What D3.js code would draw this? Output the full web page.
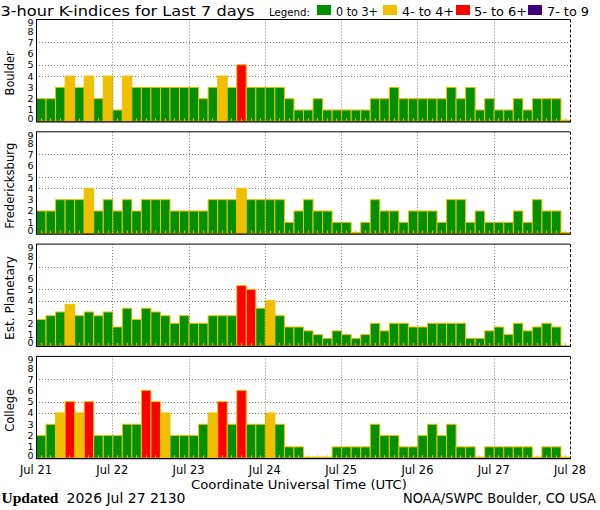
<!DOCTYPE html>
<html><head><meta charset="utf-8">
<script src="https://cdn.jsdelivr.net/npm/d3@7"></script>
<style>body{margin:0;background:#fff;overflow:hidden}</style>
</head><body>
<script>
// ---- data ----
const panelNames = ["Boulder", "Fredericksburg", "Est. Planetary", "College"];
const boulder = [2,2,3,4,3,4,2,4, 1,4,3,3,3,3,3,3, 3,2,3,4,3,5,3,3, 3,3,2,1,1,2,1,1, 1,1,1,2,2,3,2,2, 2,2,2,3,2,3,1,2, 1,1,2,1,2,2,2,0];
const fredericksburg = [2,2,3,3,3,4,2,3, 2,3,2,3,3,3,2,2, 2,2,3,3,3,4,3,3, 3,3,1,2,3,2,2,1, 1,0,1,3,2,2,1,2, 2,2,1,3,3,1,2,1, 1,1,2,1,3,2,2,0];
const planetary = [2.33,2.67,3,3.67,2.67,3,2.67,3, 1.67,3.33,2.33,3.33,3,2.67,2,2.67, 2,2,2.67,2.67,2.67,5.33,5,3.33, 4,2.67,1.67,1.67,1.33,1,0.67,1.33, 1,0.67,1,2,1.33,2,2,1.67, 1.67,2,2,2,2,0.67,0.67,1.33, 1.67,1,2,1.33,1.67,2,1.67,null];
const college = [2,3,4,5,4,5,2,2, 2,3,3,6,5,4,2,2, 2,3,4,5,3,6,3,3, 4,3,1,1,0,0,0,1, 1,1,1,3,2,2,1,1, 2,3,2,3,1,1,0,1, 1,1,1,1,0,1,1,0];
const series = [boulder, fredericksburg, planetary, college];
const dayLabels = ["Jul 21","Jul 22","Jul 23","Jul 24","Jul 25","Jul 26","Jul 27","Jul 28"];
const yTicks = [0,1,2,3,4,5,6,7,8,9];
const gridLevels = [4,5,7];
const legendLabels = ["0 to 3+","4- to 4+","5- to 6+","7- to 9"];
const legendColors = ["#009000","#f0c000","#ff0000","#400080"];

const W = 600, H = 510;
const svg = d3.select("body").append("svg").attr("width", W).attr("height", H)
  .style("font-family", "'DejaVu Sans', sans-serif");

const left = 36, right = 570;
const nBars = 56;
const x = d3.scaleLinear().domain([0, nBars]).range([left, right]);
const border = "#f0c000";

function colorFor(v) {
  if (v >= 6.6) return legendColors[3];
  if (v >= 4.6) return legendColors[2];
  if (v >= 3.6) return legendColors[1];
  return legendColors[0];
}

function fitText(sel, len) { sel.attr("textLength", len).attr("lengthAdjust", "spacingAndGlyphs"); }

// title
svg.append("text").attr("x", 0.5).attr("y", 15.5).attr("font-size", 14.5)
  .text("3-hour K-indices for Last 7 days").call(fitText, 254);

// legend
svg.append("text").attr("x", 269).attr("y", 15.5).attr("font-size", 11)
  .text("Legend:").call(fitText, 41);
const legBoxX = [317, 383, 456, 528];
const legTextX = [336, 402, 474, 547];
const legTextW = [42, 52, 53, 42];
legendLabels.forEach((l, i) => {
  svg.append("rect").attr("x", legBoxX[i]).attr("y", 5).attr("width", 14).attr("height", 10)
    .attr("fill", legendColors[i]);
  svg.append("text").attr("x", legTextX[i]).attr("y", 15.5).attr("font-size", 11.5)
    .text(l).call(fitText, legTextW[i]);
});

const titleLen = [44, 86, 84, 43];

series.forEach((data, p) => {
  const top = 19.5 + 112.3 * p;
  const bottom = top + 101.8;
  const y = d3.scaleLinear().domain([0, 9]).range([bottom, top]);
  const g = svg.append("g");

  // horizontal dotted grid (under bars)
  g.selectAll("line.h").data(gridLevels).join("line")
    .attr("x1", left).attr("x2", right)
    .attr("y1", d => Math.round(y(d)) + 0.5).attr("y2", d => Math.round(y(d)) + 0.5)
    .attr("stroke", "#808080").attr("stroke-width", 1).attr("stroke-dasharray", "1,2");

  // bars
  const bars = data.map((v, i) => ({v, i})).filter(d => d.v !== null);
  g.selectAll("rect.bar").data(bars).join("rect")
    .attr("x", d => x(d.i) + 0.5)
    .attr("width", d => x(d.i + 1) - x(d.i))
    .attr("y", d => y(Math.max(d.v, 0.1)))
    .attr("height", d => bottom - y(Math.max(d.v, 0.1)))
    .attr("fill", d => colorFor(d.v))
    .attr("stroke", border).attr("stroke-width", 1);

  // small ticks at bar centres
  g.selectAll("line.t").data(d3.range(nBars)).join("line")
    .attr("x1", i => Math.round(x(i + 0.5)) + 0.5).attr("x2", i => Math.round(x(i + 0.5)) + 0.5)
    .attr("y1", bottom).attr("y2", bottom - 3)
    .attr("stroke", border).attr("stroke-width", 1);

  // vertical day grid (dotted)
  g.selectAll("line.v").data(d3.range(1, 7)).join("line")
    .attr("x1", d => Math.round(x(d * 8)) + 0.5).attr("x2", d => Math.round(x(d * 8)) + 0.5)
    .attr("y1", top).attr("y2", bottom)
    .attr("stroke", "#808080").attr("stroke-width", 1).attr("stroke-dasharray", "1,2");

  // frame
  g.append("line").attr("x1", left + 0.5).attr("x2", left + 0.5).attr("y1", top).attr("y2", bottom + 0.5)
    .attr("stroke", "#000");
  g.append("line").attr("x1", left).attr("x2", right).attr("y1", top).attr("y2", top)
    .attr("stroke", "#000");
  g.append("line").attr("x1", left).attr("x2", right + 1).attr("y1", bottom + 0.5).attr("y2", bottom + 0.5)
    .attr("stroke", "#000").attr("stroke-width", 1.2);
  g.append("line").attr("x1", right + 0.5).attr("x2", right + 0.5).attr("y1", top).attr("y2", bottom)
    .attr("stroke", "#000").attr("stroke-dasharray", "3,2");

  // y tick labels
  g.selectAll("text.yl").data(yTicks).join("text")
    .attr("x", 33.5)
    .attr("y", d => Math.min(Math.max(y(d) + (d === 8 ? 0.8 : 0), top + 3.2), bottom - 3.2))
    .attr("dominant-baseline", "central")
    .attr("text-anchor", "end").attr("font-size", 9.5)
    .text(d => d);

  // panel title
  const cy = (top + bottom) / 2 + 3;
  g.append("text").attr("transform", `translate(13.5,${cy}) rotate(-90)`)
    .attr("text-anchor", "middle").attr("font-size", 13)
    .text(panelNames[p]).call(fitText, titleLen[p]);

  if (p === series.length - 1) {
    g.selectAll("text.xl").data(dayLabels).join("text")
      .attr("x", (d, i) => x(i * 8)).attr("y", 473.5)
      .attr("text-anchor", "middle").attr("font-size", 11.5)
      .text(d => d).call(fitText, 32);
  }
});

svg.append("text").attr("x", 299).attr("y", 488.5).attr("text-anchor", "middle").attr("font-size", 13)
  .text("Coordinate Universal Time (UTC)").call(fitText, 216);

svg.append("text").attr("x", 1.5).attr("y", 503).attr("font-size", 14.5)
  .attr("font-family", "'Liberation Serif', serif").attr("font-weight", "bold")
  .text("Updated").call(fitText, 57);
svg.append("text").attr("x", 66.5).attr("y", 503).attr("font-size", 13.5)
  .text("2026 Jul 27 2130").call(fitText, 119);
svg.append("text").attr("x", 403).attr("y", 503).attr("font-size", 13.5)
  .text("NOAA/SWPC Boulder, CO USA").call(fitText, 193);
</script>
</body></html>
